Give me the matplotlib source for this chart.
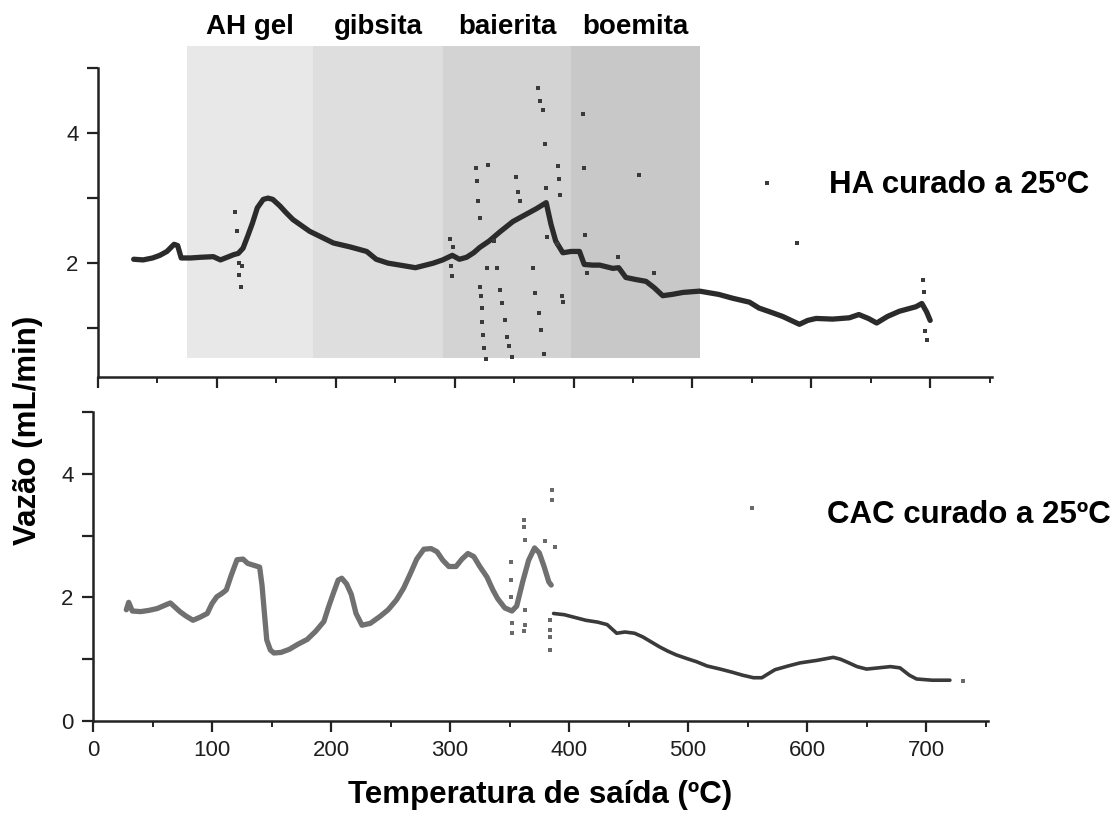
import matplotlib
matplotlib.use("Agg")
import matplotlib.pyplot as plt
import matplotlib.transforms as mtransforms
from matplotlib.patches import Rectangle
from matplotlib.ticker import MultipleLocator, FuncFormatter

plt.rcParams['font.family'] = ['Liberation Sans', 'DejaVu Sans']

# --- HA curado a 25ºC (top panel) ---
ha_temp = [30, 38, 46, 52, 58, 64, 67, 70, 78, 86, 97, 103, 110, 114, 118, 122,
           126, 130, 134, 139, 143, 147, 153, 158, 164, 171, 178, 188, 198, 212,
           226, 234, 244, 254, 267, 282, 290, 298, 304, 310, 316, 321, 329, 338,
           349, 360, 369, 377, 381, 385, 391, 398, 405, 409, 416, 422, 433, 438,
           444, 452, 461, 468, 475, 483, 492, 506, 522, 534, 548, 556, 567, 576,
           583, 590, 597, 604, 618, 632, 640, 648, 655, 664, 674, 682, 688, 693,
           697, 700]
ha_flow = [2.06, 2.05, 2.08, 2.12, 2.18, 2.29, 2.27, 2.08, 2.08, 2.09, 2.10, 2.05,
           2.10, 2.13, 2.15, 2.23, 2.42, 2.62, 2.85, 2.98, 3.00, 2.98, 2.88, 2.78,
           2.67, 2.58, 2.49, 2.40, 2.31, 2.25, 2.18, 2.06, 2.00, 1.97, 1.93, 2.00,
           2.05, 2.12, 2.06, 2.09, 2.16, 2.24, 2.34, 2.48, 2.64, 2.75, 2.84, 2.93,
           2.60, 2.34, 2.16, 2.18, 2.18, 1.98, 1.97, 1.97, 1.92, 1.93, 1.78, 1.75,
           1.72, 1.62, 1.50, 1.52, 1.55, 1.57, 1.52, 1.46, 1.40, 1.31, 1.24, 1.18,
           1.12, 1.06, 1.12, 1.15, 1.14, 1.16, 1.21, 1.15, 1.08, 1.18, 1.26, 1.30,
           1.33, 1.38, 1.25, 1.12]
ha_noise_temp = [115, 117, 119, 119, 120, 121, 296, 297, 298, 299,
                 318, 319, 320, 321, 321, 322, 323, 323, 324, 325, 326, 327, 328,
                 333, 336, 338, 340, 342, 344, 346, 348, 352, 353, 355,
                 366, 368, 370, 371, 372, 373, 374, 375, 376, 377, 378,
                 386, 387, 388, 389, 390, 391, 408, 409, 410, 411,
                 437, 455, 468, 563, 588, 694, 695, 696, 697]
ha_noise_flow = [2.79, 2.49, 2.00, 1.82, 1.64, 1.95, 2.37, 1.95, 1.80, 2.25,
                 3.46, 3.26, 2.95, 2.69, 1.64, 1.49, 1.31, 1.10, 0.90, 0.70, 0.52, 1.92, 3.51,
                 2.34, 1.92, 1.59, 1.38, 1.13, 0.87, 0.72, 0.56, 3.33, 3.10, 2.95,
                 1.92, 1.54, 4.69, 1.23, 4.49, 0.97, 4.36, 0.61, 3.83, 3.15, 2.40,
                 2.30, 3.50, 3.30, 3.05, 1.50, 1.40, 4.30, 3.47, 2.44, 1.85,
                 2.10, 3.35, 1.85, 3.23, 2.31, 1.74, 1.55, 0.95, 0.82]

phases = ['AH gel', 'gibsita', 'baierita', 'boemita']
phase_edges = [75, 181, 290, 398, 506]
phase_greys = ['#e8e8e8', '#dedede', '#d3d3d3', '#c8c8c8']

# --- CAC curado a 25ºC (bottom panel) ---
cac_temp = [28, 30, 33, 40, 47, 54, 60, 65, 69, 73, 78, 84, 90, 96, 100, 104, 108,
            112, 116, 121, 126, 130, 135, 140, 142, 144, 146, 149, 152, 158, 165,
            172, 180, 187, 194, 198, 202, 206, 209, 213, 217, 221, 226, 233, 241,
            248, 255, 261, 267, 272, 278, 284, 289, 294, 299, 305, 310, 315, 320,
            325, 331, 336, 340, 346, 352, 356, 361, 366, 371, 375, 379, 383, 385]
cac_flow = [1.80, 1.92, 1.78, 1.77, 1.79, 1.82, 1.87, 1.91, 1.84, 1.77, 1.70, 1.63,
            1.68, 1.74, 1.90, 2.01, 2.06, 2.12, 2.35, 2.61, 2.62, 2.55, 2.52, 2.49,
            2.20, 1.75, 1.31, 1.15, 1.10, 1.11, 1.16, 1.24, 1.32, 1.45, 1.61, 1.85,
            2.07, 2.28, 2.31, 2.22, 2.05, 1.74, 1.55, 1.58, 1.69, 1.80, 1.96, 2.15,
            2.40, 2.62, 2.78, 2.79, 2.74, 2.60, 2.50, 2.50, 2.62, 2.71, 2.66, 2.50,
            2.33, 2.12, 1.98, 1.83, 1.78, 1.86, 2.25, 2.60, 2.80, 2.72, 2.50, 2.25,
            2.20]
cac_tail_temp = [387, 396, 404, 414, 424, 432, 440, 447, 455, 462, 469, 476, 483,
                 490, 499, 507, 516, 527, 537, 546, 555, 562, 567, 573, 584, 594,
                 608, 622, 628, 634, 642, 650, 660, 670, 678, 686, 692, 705, 720]
cac_tail_flow = [1.74, 1.72, 1.68, 1.63, 1.60, 1.56, 1.42, 1.44, 1.42, 1.36, 1.28,
                 1.20, 1.13, 1.07, 1.01, 0.96, 0.89, 0.84, 0.79, 0.74, 0.70, 0.70,
                 0.76, 0.83, 0.89, 0.94, 0.98, 1.03, 1.00, 0.95, 0.88, 0.84, 0.86,
                 0.88, 0.86, 0.74, 0.68, 0.66, 0.66]
cac_noise_temp = [351, 351, 351, 352, 352, 362, 362, 363, 363, 363, 362, 380, 386,
                  386, 384, 384, 384, 384, 388, 554, 731]
cac_noise_flow = [2.58, 2.28, 2.01, 1.58, 1.42, 3.25, 3.14, 2.93, 1.80, 1.55, 1.46,
                  2.91, 3.74, 3.58, 1.63, 1.47, 1.36, 1.15, 2.82, 3.45, 0.65]

W, H = 1117, 830
fig = plt.figure(figsize=(W / 100, H / 100), dpi=100)
ax1 = fig.add_axes([98 / W, 1 - 377 / H, (992 - 98) / W, (377 - 68) / H])
ax2 = fig.add_axes([93 / W, 1 - 721 / H, (988 - 93) / W, (721 - 412) / H])

axis_col = '#222222'
even_only = FuncFormatter(lambda v, p: '%d' % v if int(round(v)) % 2 == 0 else '')

for ax in (ax1, ax2):
    ax.set_xlim(0, 752)
    for s in ('top', 'right'):
        ax.spines[s].set_visible(False)
    for s in ('left', 'bottom'):
        ax.spines[s].set_linewidth(1.8)
        ax.spines[s].set_color(axis_col)
    ax.xaxis.set_major_locator(MultipleLocator(100))
    ax.xaxis.set_minor_locator(MultipleLocator(50))
    ax.yaxis.set_major_locator(MultipleLocator(1))
    ax.yaxis.set_major_formatter(even_only)
    ax.tick_params(which='major', direction='out', length=8, width=1.6,
                   color=axis_col, labelsize=16, labelcolor='#1e1e1e', pad=6)
    ax.tick_params(which='minor', direction='out', length=4.5, width=1.4,
                   color=axis_col)

ax1.set_ylim(0.25, 5.0)
ax1.tick_params(axis='x', labelbottom=False)
ax2.set_ylim(0, 5.0)

# phase bands behind the HA curve
trans = mtransforms.blended_transform_factory(ax1.transData, ax1.transAxes)
for i, name in enumerate(phases):
    x0, x1 = phase_edges[i], phase_edges[i + 1]
    ax1.add_patch(Rectangle((x0, 0.061), x1 - x0, 1.071 - 0.061, transform=trans,
                            facecolor=phase_greys[i], edgecolor='none',
                            clip_on=False, zorder=0))
    ax1.text((x0 + x1) / 2, 1.133, name, transform=trans, ha='center',
             va='center', fontsize=20, fontweight='bold')

ax1.plot(ha_temp, ha_flow, color='#2b2b2b', lw=3.8, solid_capstyle='round', zorder=3)
ax1.scatter(ha_noise_temp, ha_noise_flow, s=6, marker='s', color='#3a3a3a',
            linewidths=0, zorder=3)

ax2.plot(cac_temp, cac_flow, color='#707070', lw=3.8, solid_capstyle='round', zorder=3)
ax2.plot(cac_tail_temp, cac_tail_flow, color='#3a3a3a', lw=2.6,
         solid_capstyle='round', zorder=3)
ax2.scatter(cac_noise_temp, cac_noise_flow, s=6, marker='s', color='#6a6a6a',
            linewidths=0, zorder=3)

fig.text(829 / W, 1 - 185 / H, 'HA curado a 25ºC', ha='left', va='center',
         fontsize=22.5, fontweight='bold')
fig.text(827 / W, 1 - 515 / H, 'CAC curado a 25ºC', ha='left', va='center',
         fontsize=22.5, fontweight='bold')
fig.text(28 / W, 1 - 430 / H, 'Vazão (mL/min)', rotation=90, ha='center',
         va='center', fontsize=22.5, fontweight='bold')
fig.text(540 / W, 1 - 795 / H, 'Temperatura de saída (ºC)', ha='center',
         va='center', fontsize=22.5, fontweight='bold')

fig.savefig('out.png', dpi=100)
